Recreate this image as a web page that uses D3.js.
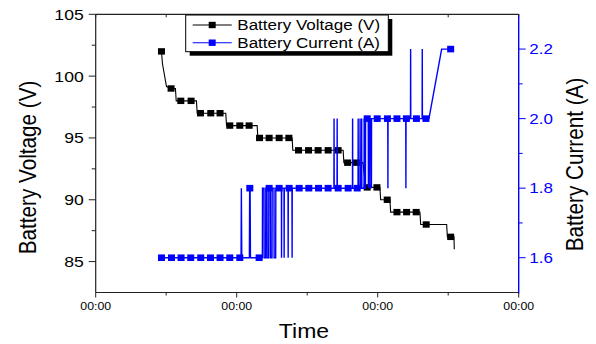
<!DOCTYPE html>
<html><head><meta charset="utf-8">
<script src="https://cdn.jsdelivr.net/npm/d3@7"></script>
<style>html,body{margin:0;padding:0;background:#fff;}svg{display:block;font-family:"Liberation Sans",Arial,sans-serif;}</style>
</head><body><svg id="c" width="596" height="344"></svg>
<script>
// ---- data (time in arbitrary minutes, axis labelled 00:00) ----
const xMajorTicks = [0, 20, 40, 60];
const xMinorTicks = [10, 30, 50];
const xTickLabel = "00:00";
const vTicks = [85, 90, 95, 100, 105];
const vMinor = [87.5, 92.5, 97.5, 102.5];
const aTicks = [1.6, 1.8, 2.0, 2.2];
const aMinor = [1.7, 1.9, 2.1];
const seriesNames = ["Battery Voltage (V)", "Battery Current (A)"];

const voltageLine = [[9.33,102],[9.47,101],[10.04,99.15],[10.69,99],[11.31,99],[11.42,98],[14.29,98],[14.40,97],
 [18.45,97],[18.56,96],[22.90,96],[23.0,95],[27.86,95],[27.96,94],[35.10,94],[35.2,93],[37.90,93],[38.1,92],
 [38.3,91],[40.31,91],[40.42,90],[41.73,90],[41.84,89],[45.99,89],[46.10,88],[49.78,88],[49.88,87],[50.82,87],[50.86,86]];
const voltageMarkers = [[9.33,102],[10.69,99],[12.07,98],[13.53,98],[14.86,97],[16.32,97],[17.64,97],[19.02,96],
 [20.44,96],[21.76,96],[23.24,95],[24.60,95],[26.02,95],[27.40,95],[28.77,94],[30.19,94],[31.55,94],[32.97,94],
 [34.39,94],[35.73,93],[37.00,93],[38.51,91],[39.89,91],[41.35,90],[42.73,89],[44.10,89],[45.46,89],[46.88,88],[50.35,87]];

const currentLine = [[9.33,1.6],[20.62,1.6],[20.66,1.8],[20.72,1.6],[21.80,1.6],[21.84,1.8],[21.90,1.8],[21.95,1.6],
 [23.64,1.6],[23.66,1.8],[23.87,1.8],[23.89,1.6],[24.11,1.6],[24.13,1.8],[24.30,1.8],[24.32,1.6],[24.54,1.6],[24.56,1.8],
 [24.78,1.8],[24.80,1.6],[25.01,1.6],[25.03,1.8],[25.29,1.8],[25.31,1.6],[25.53,1.6],[25.55,1.8],[26.34,1.8],[26.36,1.6],
 [26.38,1.8],[26.71,1.8],[26.73,1.6],[26.75,1.8],[27.28,1.8],[27.30,1.6],[27.32,1.8],[27.84,1.8],[27.86,1.6],[27.88,1.8],
 [33.79,1.8],[33.81,2.0],[33.83,1.8],[34.23,1.8],[34.25,2.0],[34.27,1.8],[36.42,1.8],[36.44,2.0],[36.46,1.8],
 [37.21,1.8],[37.23,2.0],[37.25,1.8],[37.48,1.8],[37.50,2.0],[37.52,1.8],[37.71,1.8],[37.73,2.0],[37.75,1.8],
 [38.06,1.8],[38.08,2.0],[38.10,1.8],[38.26,1.8],[38.28,2.0],[38.66,2.0],[38.68,1.8],[38.70,2.0],[38.87,2.0],[38.89,1.8],
 [38.91,2.0],[39.09,2.0],[39.11,1.8],[39.13,2.0],[41.43,2.0],[41.45,1.8],[41.47,2.0],[43.98,2.0],[44.00,1.8],[44.02,2.0],
 [44.65,2.0],[44.67,2.2],[44.69,2.0],[46.30,2.0],[46.32,2.2],[46.34,2.0],[47.27,2.0],[49.07,2.2],[50.35,2.2]];
const currentMarkers = [[9.33,1.6],[10.75,1.6],[12.11,1.6],[13.48,1.6],[14.90,1.6],[16.28,1.6],[17.64,1.6],[19.02,1.6],
 [20.44,1.6],[21.86,1.8],[23.18,1.6],[24.60,1.8],[26.02,1.8],[27.44,1.8],[28.86,1.8],[30.23,1.8],[31.61,1.8],[32.97,1.8],
 [34.39,1.8],[35.81,1.8],[37.09,1.8],[38.51,2.0],[39.93,2.0],[41.38,2.0],[42.73,2.0],[44.07,2.0],[45.49,2.0],[46.84,2.0],[50.35,2.2]];

// ---- layout ----
const L = 95.7, R = 518.7, T = 14.3, B = 292.5;
const SX = 1.15;
const BLUE = "#0000ff";
const svg = d3.select("#c");
svg.append("rect").attr("width",596).attr("height",344).attr("fill","#fff");

const x = d3.scaleLinear().domain([0,60]).range([L,R]);
const yV = d3.scaleLinear().domain([82.5,105]).range([B,T]);
const yA = d3.scaleLinear().domain([1.5,2.3]).range([B,T]);

function text(g, str, px, py, size, anchor, color, rot) {
  const t = g.append("text").text(str).attr("font-size", size).attr("fill", color || "#000")
    .attr("text-anchor", anchor || "start");
  if (rot) t.attr("transform", `translate(${px},${py}) rotate(${rot}) scale(1,${SX})`);
  else t.attr("transform", `translate(${px},${py}) scale(${SX},1)`);
  return t;
}

// ---- series ----
const lineV = d3.line().x(d=>x(d[0])).y(d=>yV(d[1]));
const lineA = d3.line().x(d=>x(d[0])).y(d=>yA(d[1]));

svg.append("path").attr("d", lineV(voltageLine)).attr("fill","none").attr("stroke","#000").attr("stroke-width",1.1);
svg.selectAll(".vm").data(voltageMarkers).enter().append("rect")
  .attr("x", d=>x(d[0])-3.5).attr("y", d=>yV(d[1])-3.2).attr("width",7).attr("height",6.4).attr("fill","#000");

svg.append("path").attr("d", lineA(currentLine)).attr("fill","none").attr("stroke",BLUE).attr("stroke-width",1.4);
svg.selectAll(".am").data(currentMarkers).enter().append("rect")
  .attr("x", d=>x(d[0])-3.5).attr("y", d=>yA(d[1])-3.3).attr("width",7).attr("height",6.6).attr("fill",BLUE);

// ---- axes ----
const ax = svg.append("g");
ax.append("line").attr("x1",L).attr("x2",R).attr("y1",T).attr("y2",T).attr("stroke","#222").attr("stroke-width",1.2);
ax.append("line").attr("x1",L).attr("x2",R).attr("y1",B).attr("y2",B).attr("stroke","#222").attr("stroke-width",1.2);
ax.append("line").attr("x1",L).attr("x2",L).attr("y1",T).attr("y2",B).attr("stroke","#222").attr("stroke-width",1.2);
ax.append("line").attr("x1",R).attr("x2",R).attr("y1",T).attr("y2",B+1).attr("stroke",BLUE).attr("stroke-width",1.4);

// x ticks
xMajorTicks.forEach(v=>{
  ax.append("line").attr("x1",x(v)).attr("x2",x(v)).attr("y1",B).attr("y2",B+5).attr("stroke","#222");
  ax.append("line").attr("x1",x(v)).attr("x2",x(v)).attr("y1",T).attr("y2",T+3).attr("stroke","#222");
  text(ax, xTickLabel, x(v), 310, 10.7, "middle");
});
xMinorTicks.forEach(v=>{
  ax.append("line").attr("x1",x(v)).attr("x2",x(v)).attr("y1",B).attr("y2",B+3).attr("stroke","#222");
  ax.append("line").attr("x1",x(v)).attr("x2",x(v)).attr("y1",T).attr("y2",T+3).attr("stroke","#222");
});
// left ticks
vTicks.forEach(v=>{
  ax.append("line").attr("x1",L-7).attr("x2",L).attr("y1",yV(v)).attr("y2",yV(v)).attr("stroke","#222");
  text(ax, v, L-12, yV(v)+5.4, 15.3, "end");
});
vMinor.forEach(v=>{
  ax.append("line").attr("x1",L-4).attr("x2",L).attr("y1",yV(v)).attr("y2",yV(v)).attr("stroke","#222");
});
// right ticks
aTicks.forEach(v=>{
  ax.append("line").attr("x1",R).attr("x2",R+7).attr("y1",yA(v)).attr("y2",yA(v)).attr("stroke",BLUE);
  text(ax, v.toFixed(1), R+10.5, yA(v)+5.2, 14.8, "start", BLUE);
});
aMinor.forEach(v=>{
  ax.append("line").attr("x1",R).attr("x2",R+4).attr("y1",yA(v)).attr("y2",yA(v)).attr("stroke",BLUE);
});

// titles
text(ax, "Time", 304, 338, 20, "middle");
text(ax, seriesNames[0], 36, 167.5, 20.7, "middle", "#000", -90);
text(ax, seriesNames[1], 583, 164.5, 20.7, "middle", "#000", -90);

// ---- legend ----
const lg = svg.append("g");
lg.append("rect").attr("x",189.7).attr("y",19).attr("width",202.6).attr("height",36.7).attr("fill","#000");
lg.append("rect").attr("x",185.7).attr("y",15).attr("width",202.6).attr("height",36.7).attr("fill","#fff").attr("stroke","#000").attr("stroke-width",1);
[[seriesNames[0],"#000",25],[seriesNames[1],BLUE,42.7]].forEach(([name,col,yy])=>{
  lg.append("line").attr("x1",192.7).attr("x2",231.7).attr("y1",yy).attr("y2",yy).attr("stroke",col).attr("stroke-width",1.1);
  lg.append("rect").attr("x",208.7).attr("y",yy-3.2).attr("width",7).attr("height",6.4).attr("fill",col);
  text(lg, name, 237.3, yy+5.3, 14.8, "start", "#000");
});
</script></body></html>
